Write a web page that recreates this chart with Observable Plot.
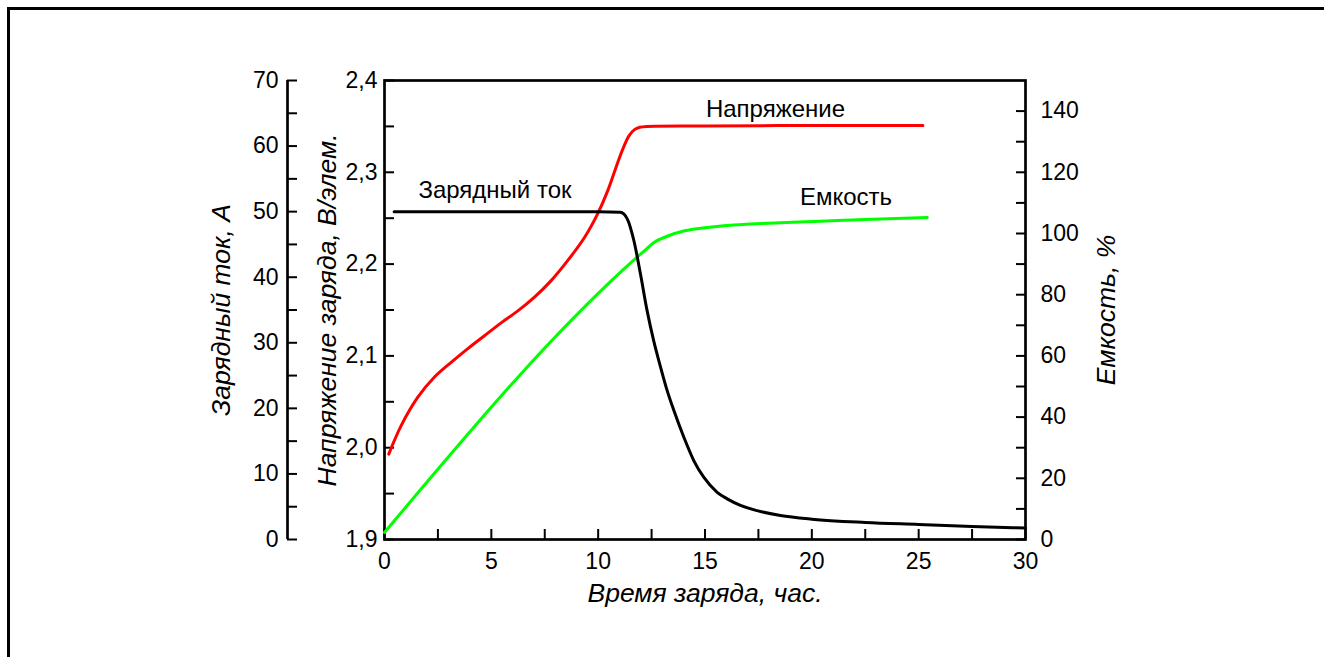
<!DOCTYPE html>
<html><head><meta charset="utf-8">
<script src="https://cdn.jsdelivr.net/npm/d3@7"></script>
<script src="https://cdn.jsdelivr.net/npm/@observablehq/plot@0.6"></script>
<style>
html,body{margin:0;padding:0;background:#fff;overflow:hidden;}
#chart{position:absolute;left:0;top:0;}
#frame{position:absolute;left:7px;top:7px;width:2000px;height:2000px;border-top:3px solid #000;border-left:3px solid #000;pointer-events:none;}
</style></head>
<body><div id="chart"></div><div id="frame"></div>
<script>
// ---- tick values and labels ----
const timeTicks = [0, 5, 10, 15, 20, 25, 30];
const timeTickLabels = ["0", "5", "10", "15", "20", "25", "30"];
const timeMinorTicks = [2.5, 7.5, 12.5, 17.5, 22.5, 27.5];
const voltageTicks = [1.9, 2.0, 2.1, 2.2, 2.3, 2.4];
const voltageTickLabels = ["1,9", "2,0", "2,1", "2,2", "2,3", "2,4"];
const voltageMinorTicks = [1.95, 2.05, 2.15, 2.25, 2.35];
const currentTicks = [0, 10, 20, 30, 40, 50, 60, 70];
const currentTickLabels = ["0", "10", "20", "30", "40", "50", "60", "70"];
const currentMinorTicks = [5, 15, 25, 35, 45, 55, 65];
const capacityTicks = [0, 20, 40, 60, 80, 100, 120, 140];
const capacityTickLabels = ["0", "20", "40", "60", "80", "100", "120", "140"];
const capacityMinorTicks = [10, 30, 50, 70, 90, 110, 130];

// ---- series ----
const voltageTime = [0.2, 0.78, 1.56, 2.34, 3.12, 3.9, 4.68, 5.46, 6.24, 7.02, 7.8, 8.58, 9.36, 9.98, 10.45, 10.92, 11.2, 11.45, 11.7, 11.95, 12.3, 15, 20, 25.2];
const voltageValue = [1.993, 2.024, 2.055, 2.077, 2.093, 2.108, 2.122, 2.136, 2.149, 2.164, 2.182, 2.204, 2.229, 2.255, 2.280, 2.311, 2.328, 2.340, 2.3465, 2.349, 2.350, 2.3505, 2.351, 2.351];

const currentTime = [0.45, 5, 10, 11.04, 11.36, 11.67, 11.98, 12.29, 12.6, 12.92, 13.23, 13.54, 14.01, 14.48, 14.94, 15.57, 16.04, 16.66, 17.44, 18.53, 20, 22.5, 25, 27.5, 30];
const currentValue = [50, 50, 50, 49.9, 48.9, 45.6, 40.5, 34.9, 30.3, 26.3, 22.7, 19.7, 15.6, 12.0, 9.5, 7.2, 6.2, 5.2, 4.4, 3.66, 3.1, 2.6, 2.3, 2.0, 1.75];

const capacityTime = [0, 12.2, 12.6, 13.23, 14.0, 14.79, 16.35, 18.53, 20.1, 22.5, 25.4];
const capacityValue = [2.3, 94.6, 97.0, 99.1, 100.8, 101.7, 102.8, 103.5, 103.9, 104.6, 105.2];

const seriesLabels = [
  {text: "Напряжение", t: 18.3, value: 2.369, axis: "voltage"},
  {text: "Емкость", t: 21.6, value: 111.7, axis: "capacity"},
  {text: "Зарядный ток", t: 5.17, value: 53.2, axis: "current"}
];
const axisTitles = {
  time: "Время заряда, час.",
  current: "Зарядный ток, А",
  voltage: "Напряжение заряда, В/элем.",
  capacity: "Емкость, %"
};

// ---- mapping of secondary axes onto the voltage scale ----
const V0 = 1.9, V1 = 2.4, I1 = 70, C1 = 150;
const vFromCurrent = i => V0 + i * (V1 - V0) / I1;
const vFromCap = c => V0 + c * (V1 - V0) / C1;
const toV = {voltage: v => v, current: vFromCurrent, capacity: vFromCap};

const voltageData = voltageTime.map((t, i) => ({t, v: voltageValue[i]}));
const currentData = currentTime.map((t, i) => ({t, v: vFromCurrent(currentValue[i])}));
const capacityData = capacityTime.map((t, i) => ({t, v: vFromCap(capacityValue[i])}));
const labelData = seriesLabels.map(d => ({text: d.text, t: d.t, v: toV[d.axis](d.value)}));

const currentTicksV = currentTicks.map(vFromCurrent);
const currentMinorV = currentMinorTicks.map(vFromCurrent);
const capacityTicksV = capacityTicks.map(vFromCap);
const capacityMinorV = capacityMinorTicks.map(vFromCap);

const W = 1324, H = 657;
const FONT = "'Liberation Sans', Arial, sans-serif";
const tickW = 2;
const leftOffset = -97;
const titleSize = 26.5;

const chart = Plot.plot({
  width: W, height: H,
  marginLeft: 384, marginRight: 299, marginTop: 80, marginBottom: 118,
  style: {fontFamily: FONT, fontSize: "23px", color: "#000", background: "#fff"},
  x: {domain: [0, 30]},
  y: {domain: [V0, V1]},
  marks: [
    // x axis
    Plot.axisX({ticks: timeTicks, tickSize: -10, tickPadding: 23, strokeWidth: tickW, label: null,
      tickFormat: d => timeTickLabels[timeTicks.indexOf(d)]}),
    Plot.axisX({ticks: timeMinorTicks, tickSize: -10, strokeWidth: tickW, label: null, tickFormat: () => ""}),
    // voltage axis
    Plot.axisY({ticks: voltageTicks, anchor: "left", tickSize: -10, tickPadding: 17, strokeWidth: tickW, label: null,
      tickFormat: d => voltageTickLabels[voltageTicks.indexOf(d)]}),
    Plot.axisY({ticks: voltageMinorTicks, anchor: "left", tickSize: -10, strokeWidth: tickW, label: null, tickFormat: () => ""}),
    // current axis (offset to the left)
    Plot.ruleX([0], {dx: leftOffset, strokeWidth: 2.7}),
    Plot.axisY({ticks: currentTicksV, anchor: "left", dx: leftOffset, tickSize: -10, tickPadding: 19, strokeWidth: tickW, label: null,
      tickFormat: d => currentTickLabels[currentTicksV.indexOf(d)]}),
    Plot.axisY({ticks: currentMinorV, anchor: "left", dx: leftOffset, tickSize: -10, strokeWidth: tickW, label: null, tickFormat: () => ""}),
    // capacity axis (right)
    Plot.axisY({ticks: capacityTicksV, anchor: "right", tickSize: -10, tickPadding: 25, strokeWidth: tickW, label: null,
      tickFormat: d => capacityTickLabels[capacityTicksV.indexOf(d)]}),
    Plot.axisY({ticks: capacityMinorV, anchor: "right", tickSize: -10, strokeWidth: tickW, label: null, tickFormat: () => ""}),
    Plot.frame({strokeWidth: 2.7}),
    // series
    Plot.line(capacityData, {x: "t", y: "v", stroke: "#00ff00", strokeWidth: 3, curve: "monotone-x"}),
    Plot.line(voltageData, {x: "t", y: "v", stroke: "#ff0000", strokeWidth: 3, curve: "catmull-rom"}),
    Plot.line(currentData, {x: "t", y: "v", stroke: "#000", strokeWidth: 3, curve: "monotone-x"}),
    // series labels
    Plot.text(labelData, {x: "t", y: "v", text: "text", fontSize: 24, fill: "#000", lineAnchor: "middle"}),
    // axis titles
    Plot.text([axisTitles.time], {frameAnchor: "bottom", textAnchor: "middle", lineAnchor: "middle", dy: 54, fontSize: titleSize, fontStyle: "italic", fill: "#000"}),
    Plot.text([axisTitles.current], {frameAnchor: "left", textAnchor: "middle", lineAnchor: "middle", rotate: -90, dx: -162.6, fontSize: titleSize, fontStyle: "italic", fill: "#000"}),
    Plot.text([axisTitles.voltage], {frameAnchor: "left", textAnchor: "middle", lineAnchor: "middle", rotate: -90, dx: -56.6, fontSize: titleSize, fontStyle: "italic", fill: "#000"}),
    Plot.text([axisTitles.capacity], {frameAnchor: "right", textAnchor: "middle", lineAnchor: "middle", rotate: -90, dx: 81.4, fontSize: titleSize, fontStyle: "italic", fill: "#000"})
  ]
});
document.getElementById("chart").appendChild(chart);
</script>
</body></html>
